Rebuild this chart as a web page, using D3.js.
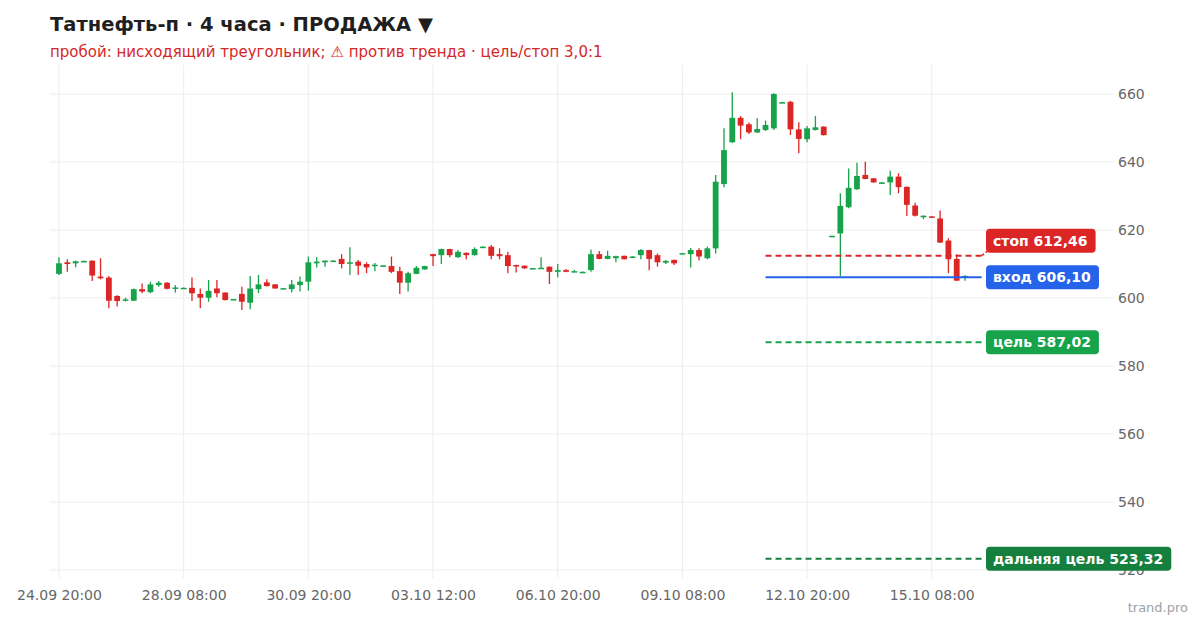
<!DOCTYPE html>
<html><head><meta charset="utf-8">
<script src="https://cdn.jsdelivr.net/npm/d3@7/dist/d3.min.js"></script>
<style>
html,body{margin:0;padding:0;background:#fff;}
svg{display:block;font-family:"DejaVu Sans",sans-serif;}
</style></head>
<body><svg id="c" width="1200" height="620"></svg>
<script>
// ---- data ----
const tickIndex = [0, 15, 30, 45, 60, 75, 90, 105];
const tickLabels = ["24.09 20:00","28.09 08:00","30.09 20:00","03.10 12:00","06.10 20:00","09.10 08:00","12.10 20:00","15.10 08:00"];
const yTicks = [520, 540, 560, 580, 600, 620, 640, 660];
const open = [607.1,610.5,610.2,610.8,611.0,606.3,606.0,600.6,599.3,599.2,602.6,601.7,603.8,604.5,602.9,602.9,603.0,601.2,600.1,602.8,601.6,599.5,601.2,598.6,602.6,604.6,604.0,602.8,602.6,603.8,604.8,610.2,610.5,611.0,611.5,610.2,610.7,610.0,609.6,609.5,609.4,607.9,604.5,607.1,608.4,612.9,612.6,614.4,612.0,613.3,612.6,615.0,615.1,612.9,612.6,609.7,609.5,608.7,608.8,609.2,607.7,608.2,607.8,607.6,608.2,612.9,611.5,611.7,612.4,612.1,612.6,614.1,612.6,610.4,611.2,613.0,612.9,614.1,611.7,614.6,633.5,645.8,653.0,651.1,648.7,649.4,649.9,657.5,657.7,649.6,646.7,649.4,650.4,618.1,619.0,626.7,632.0,636.2,635.2,633.9,634.0,635.7,632.7,627.2,624.1,624.0,623.4,616.9,611.5,606.3];
const high = [612.0,611.4,611.0,611.0,611.0,611.7,606.5,600.8,600.1,602.8,604.3,604.8,605.0,604.6,603.8,603.1,606.0,602.8,605.3,605.3,601.7,599.7,603.3,606.5,606.8,605.5,604.1,602.9,605.3,606.3,612.2,612.0,611.0,611.1,612.9,614.9,611.2,610.5,610.3,609.6,612.2,609.2,607.7,609.4,609.5,613.0,614.5,614.5,614.1,613.4,614.9,615.2,615.6,614.6,613.6,609.8,609.6,608.8,612.0,609.3,610.0,608.5,608.3,607.8,614.3,613.8,613.9,612.4,612.5,612.3,614.4,614.2,613.1,611.2,611.3,613.1,614.7,614.6,615.1,636.2,649.9,660.5,653.5,651.6,652.9,652.2,660.2,657.7,658.0,651.7,650.6,653.5,650.5,618.3,630.8,638.1,639.8,640.1,635.3,634.1,637.4,636.7,632.8,628.0,624.3,624.1,625.7,617.6,612.9,606.7];
const low = [606.8,607.7,609.0,610.7,605.0,605.5,597.0,597.5,599.0,599.1,601.4,601.4,603.3,602.6,601.6,602.8,599.1,597.0,598.9,600.2,599.3,599.4,596.5,596.7,601.4,603.4,602.7,602.7,601.6,601.9,602.2,609.0,609.2,610.9,608.7,606.8,606.8,607.3,607.9,609.4,607.3,601.2,601.9,607.0,608.3,609.4,610.0,612.0,611.8,611.4,612.5,615.0,611.4,611.4,607.3,607.5,608.6,608.6,608.7,604.1,606.1,607.6,607.7,607.5,607.7,611.4,611.4,610.5,611.3,612.0,611.4,608.2,609.2,610.0,609.7,612.9,609.0,611.0,611.4,613.1,632.6,645.6,646.7,648.2,648.5,649.1,649.4,657.4,647.9,642.6,645.8,649.3,647.8,618.0,606.5,626.4,631.8,634.9,633.9,633.8,630.3,630.8,624.1,624.0,623.2,623.8,616.2,607.3,605.0,605.1];
const close = [610.2,610.0,610.8,610.9,606.6,605.8,599.2,599.1,599.6,602.6,601.9,604.0,604.5,602.7,603.1,603.0,601.4,600.1,602.1,601.4,599.4,599.7,598.9,602.8,604.0,603.5,602.8,602.9,604.0,604.8,610.5,610.7,611.0,611.0,610.0,610.5,609.5,609.0,609.8,609.6,607.7,604.5,607.3,608.9,609.4,612.3,614.4,612.6,613.6,612.6,614.4,615.1,612.4,612.3,609.4,609.4,608.7,608.8,608.9,607.7,608.2,607.7,607.9,607.7,612.9,611.5,612.4,612.3,611.4,612.2,614.1,611.5,610.5,610.9,610.2,613.2,614.1,612.2,614.6,634.2,643.5,653.0,650.7,648.7,649.7,650.9,660.0,657.6,649.6,646.8,649.9,650.2,647.9,618.3,627.1,632.4,635.9,635.0,634.0,634.0,635.7,632.6,627.4,624.2,624.2,623.9,616.3,611.4,605.1,606.5];
const levelNames = ["стоп", "вход", "цель", "дальняя цель"];
const levelValues = [612.46, 606.10, 587.02, 523.32];
const levelText = ["612,46", "606,10", "587,02", "523,32"];
const levelColors = ["#dc2626", "#2563eb", "#16a34a", "#15803d"];
const levelDash = ["6,4", null, "6,4", "6,4"];
const levelStart = 85, levelEnd = 111;

// ---- chart ----
const svg = d3.select("#c");
const M = {left: 50, right: 1113, top: 65, bottom: 578};
const x = d3.scaleLinear().domain([-1.08, 126.8]).range([M.left, M.right]);
const y = d3.scaleLinear().domain([517.65, 668.53]).range([M.bottom, M.top]);
const green = "#16a34a", red = "#dc2626";

svg.append("text").attr("x", 50).attr("y", 31).attr("font-size", 19.5).attr("font-weight", "bold")
  .attr("fill", "#1f1f1f").text("Татнефть-п · 4 часа · ПРОДАЖА ▼");
svg.append("text").attr("x", 50).attr("y", 57).attr("font-size", 15).attr("fill", "#d62728")
  .text("пробой: нисходящий треугольник; ⚠ против тренда · цель/стоп 3,0:1");

// grid
const g = svg.append("g");
g.selectAll("line.h").data(yTicks).join("line").attr("class", "h")
  .attr("x1", M.left).attr("x2", M.right).attr("y1", d => y(d)).attr("y2", d => y(d))
  .attr("stroke", "#ececec").attr("stroke-width", 1);
g.selectAll("line.v").data(tickIndex).join("line").attr("class", "v")
  .attr("x1", d => x(d)).attr("x2", d => x(d)).attr("y1", M.top).attr("y2", M.bottom)
  .attr("stroke", "#ececec").attr("stroke-width", 1);

// axes
const yAxis = svg.append("g").attr("transform", `translate(${M.right},0)`)
  .call(d3.axisRight(y).tickValues(yTicks).tickSize(0).tickPadding(5).tickFormat(d3.format("d")));
yAxis.select(".domain").remove();
yAxis.selectAll("text").attr("fill", "#666").attr("font-size", 14).attr("font-family", "DejaVu Sans");

const xAxis = svg.append("g").attr("transform", `translate(0,${M.bottom})`)
  .call(d3.axisBottom(x).tickValues(tickIndex).tickSize(0).tickPadding(12).tickFormat((d, i) => tickLabels[i]));
xAxis.select(".domain").remove();
xAxis.selectAll("text").attr("fill", "#666").attr("font-size", 14).attr("font-family", "DejaVu Sans");

// candles
const data = open.map((o, i) => ({i, o, h: high[i], l: low[i], c: close[i]}));
const bw = 5.8;
const cg = svg.append("g");
cg.selectAll("line").data(data).join("line")
  .attr("x1", d => x(d.i)).attr("x2", d => x(d.i))
  .attr("y1", d => y(d.h)).attr("y2", d => y(d.l))
  .attr("stroke", d => d.c >= d.o ? green : red).attr("stroke-width", 1.3);
cg.selectAll("rect").data(data).join("rect")
  .attr("x", d => x(d.i) - bw / 2).attr("width", bw)
  .attr("y", d => y(Math.max(d.o, d.c)))
  .attr("height", d => Math.max(1.5, Math.abs(y(d.o) - y(d.c))))
  .attr("fill", d => d.c >= d.o ? green : red);

// levels
const lg = svg.append("g");
const labelY = levelValues.map(v => y(v));
labelY[0] = Math.min(labelY[0], labelY[1] - 36.5);
levelValues.forEach((v, k) => {
  const ly = y(v);
  lg.append("line").attr("x1", x(levelStart)).attr("x2", x(levelEnd))
    .attr("y1", ly).attr("y2", ly).attr("stroke", levelColors[k]).attr("stroke-width", 2)
    .attr("stroke-dasharray", levelDash[k]);
  if (Math.abs(labelY[k] - ly) > 1) {
    lg.append("line").attr("x1", x(levelEnd)).attr("x2", 988)
      .attr("y1", ly).attr("y2", labelY[k] + 10).attr("stroke", levelColors[k]).attr("stroke-width", 1.5)
      .attr("stroke-dasharray", "3,2");
  }
  const t = lg.append("text").attr("x", 993).attr("y", labelY[k]).attr("dy", "0.35em")
    .attr("font-size", 14).attr("font-weight", "bold").attr("fill", "#fff")
    .text(levelNames[k] + " " + levelText[k]);
  const bb = t.node().getBBox();
  lg.insert("rect", "text").attr("x", 986).attr("y", labelY[k] - 12).attr("width", bb.width + 15)
    .attr("height", 24).attr("rx", 4).attr("fill", levelColors[k]);
});

svg.append("text").attr("x", 1188).attr("y", 612).attr("text-anchor", "end").attr("font-size", 13)
  .attr("fill", "#a0a0a8").text("trand.pro");
</script></body></html>
